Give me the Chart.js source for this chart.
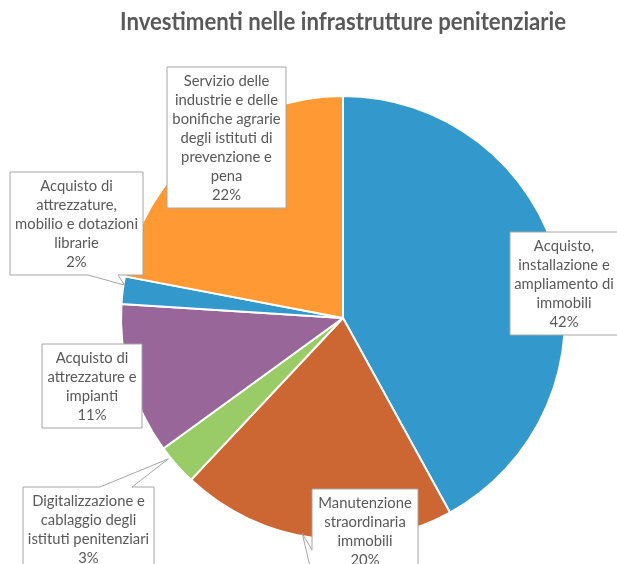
<!DOCTYPE html>
<html>
<head>
<meta charset="utf-8">
<script src="https://cdn.jsdelivr.net/npm/chart.js@4.4.1/dist/chart.umd.min.js"></script>
<style>
  html, body { margin: 0; padding: 0; background: #fff; }
  #wrap { width: 617px; height: 564px; }
</style>
</head>
<body>
<div id="wrap"><canvas id="pieChart" width="617" height="564"></canvas></div>
<script>
// --- Data ---
const categories = [
    ['Acquisto,', 'installazione e', 'ampliamento di', 'immobili'],
    ['Manutenzione', 'straordinaria', 'immobili'],
    ['Digitalizzazione e', 'cablaggio degli', 'istituti penitenziari'],
    ['Acquisto di', 'attrezzature e', 'impianti'],
    ['Acquisto di', 'attrezzature,', 'mobilio e dotazioni', 'librarie'],
    ['Servizio delle', 'industrie e delle', 'bonifiche agrarie', 'degli istituti di', 'prevenzione e', 'pena']
];
const percentages = [42, 20, 3, 11, 2, 22];
const titleText = 'Investimenti nelle infrastrutture penitenziarie';

// --- Styles ---
const sliceColors = ['#3399cc', '#cc6633', '#99cc66', '#996699', '#3399cc', '#ff9933'];
const textColor = '#595959';
const labelFont = '14.8px Lato';
const lineH = 19;
// label box: centre x, top, width; tail: side + base span + apex shift from slice edge
const labelBoxes = [
    { cx: 564, top: 232, w: 108, tail: null },
    { cx: 365, top: 489, w: 106, tail: { side: 'left', a: 550, b: 575, dx: -13, dy: -5 } },
    { cx: 88.5, top: 487, w: 131, tail: { side: 'top', a: 100, b: 132, dx: -8, dy: -6 } },
    { cx: 92, top: 344, w: 100, tail: null },
    { cx: 76.5, top: 172, w: 133, tail: { side: 'bottom', a: 88, b: 118, dx: 2, dy: -5 } },
    { cx: 226.5, top: 67, w: 119, tail: null }
];

// callout boxes drawn over the pie
const calloutPlugin = {
    id: 'callouts',
    afterDatasetsDraw(chart) {
        const c = chart.ctx;
        const meta = chart.getDatasetMeta(0);
        meta.data.forEach((arc, i) => {
            const box = labelBoxes[i];
            const lines = categories[i].concat([percentages[i] + '%']);
            const h = (lines.length - 1) * lineH + 27;
            const left = box.cx - box.w / 2, right = box.cx + box.w / 2;
            const top = box.top, bottom = box.top + h;
            // tail apex sits at the slice edge, middle of the arc
            let ax = 0, ay = 0;
            if (box.tail) {
                const mid = (arc.startAngle + arc.endAngle) / 2;
                ax = arc.x + Math.cos(mid) * arc.outerRadius + box.tail.dx;
                ay = arc.y + Math.sin(mid) * arc.outerRadius + box.tail.dy;
            }
            const side = box.tail ? box.tail.side : '';
            c.save();
            c.beginPath();
            c.moveTo(left, top);
            if (side === 'top') {
                c.lineTo(box.tail.a, top);
                c.lineTo(ax, ay);
                c.lineTo(box.tail.b, top);
            }
            c.lineTo(right, top);
            c.lineTo(right, bottom);
            if (side === 'bottom') {
                c.lineTo(box.tail.b, bottom);
                c.lineTo(ax, ay);
                c.lineTo(box.tail.a, bottom);
            }
            c.lineTo(left, bottom);
            if (side === 'left') {
                c.lineTo(left, box.tail.b);
                c.lineTo(ax, ay);
                c.lineTo(left, box.tail.a);
            }
            c.closePath();
            c.fillStyle = '#ffffff';
            c.fill();
            c.strokeStyle = '#a6a6a6';
            c.lineWidth = 1;
            c.stroke();
            c.fillStyle = textColor;
            c.font = labelFont;
            c.textAlign = 'center';
            c.textBaseline = 'middle';
            lines.forEach((t, k) => {
                c.fillText(t, box.cx, top + 14 + k * lineH);
            });
            c.restore();
        });
    }
};

const ctx = document.getElementById('pieChart').getContext('2d');
new Chart(ctx, {
    type: 'pie',
    data: {
        labels: categories.map(l => l.join(' ')),
        datasets: [{
            data: percentages,
            backgroundColor: sliceColors,
            borderColor: '#ffffff',
            borderWidth: 2
        }]
    },
    options: {
        responsive: false,
        animation: false,
        layout: { padding: { left: 120, right: 51, top: 0, bottom: 23 } },
        plugins: {
            legend: { display: false },
            tooltip: { enabled: false },
            title: {
                display: true,
                text: titleText,
                fullSize: false,
                color: textColor,
                font: { family: 'Lato', size: 23.8, weight: 'bold', lineHeight: 1.2 },
                padding: { top: 8, bottom: 58.4 }
            }
        }
    },
    plugins: [calloutPlugin]
});
</script>
</body>
</html>
